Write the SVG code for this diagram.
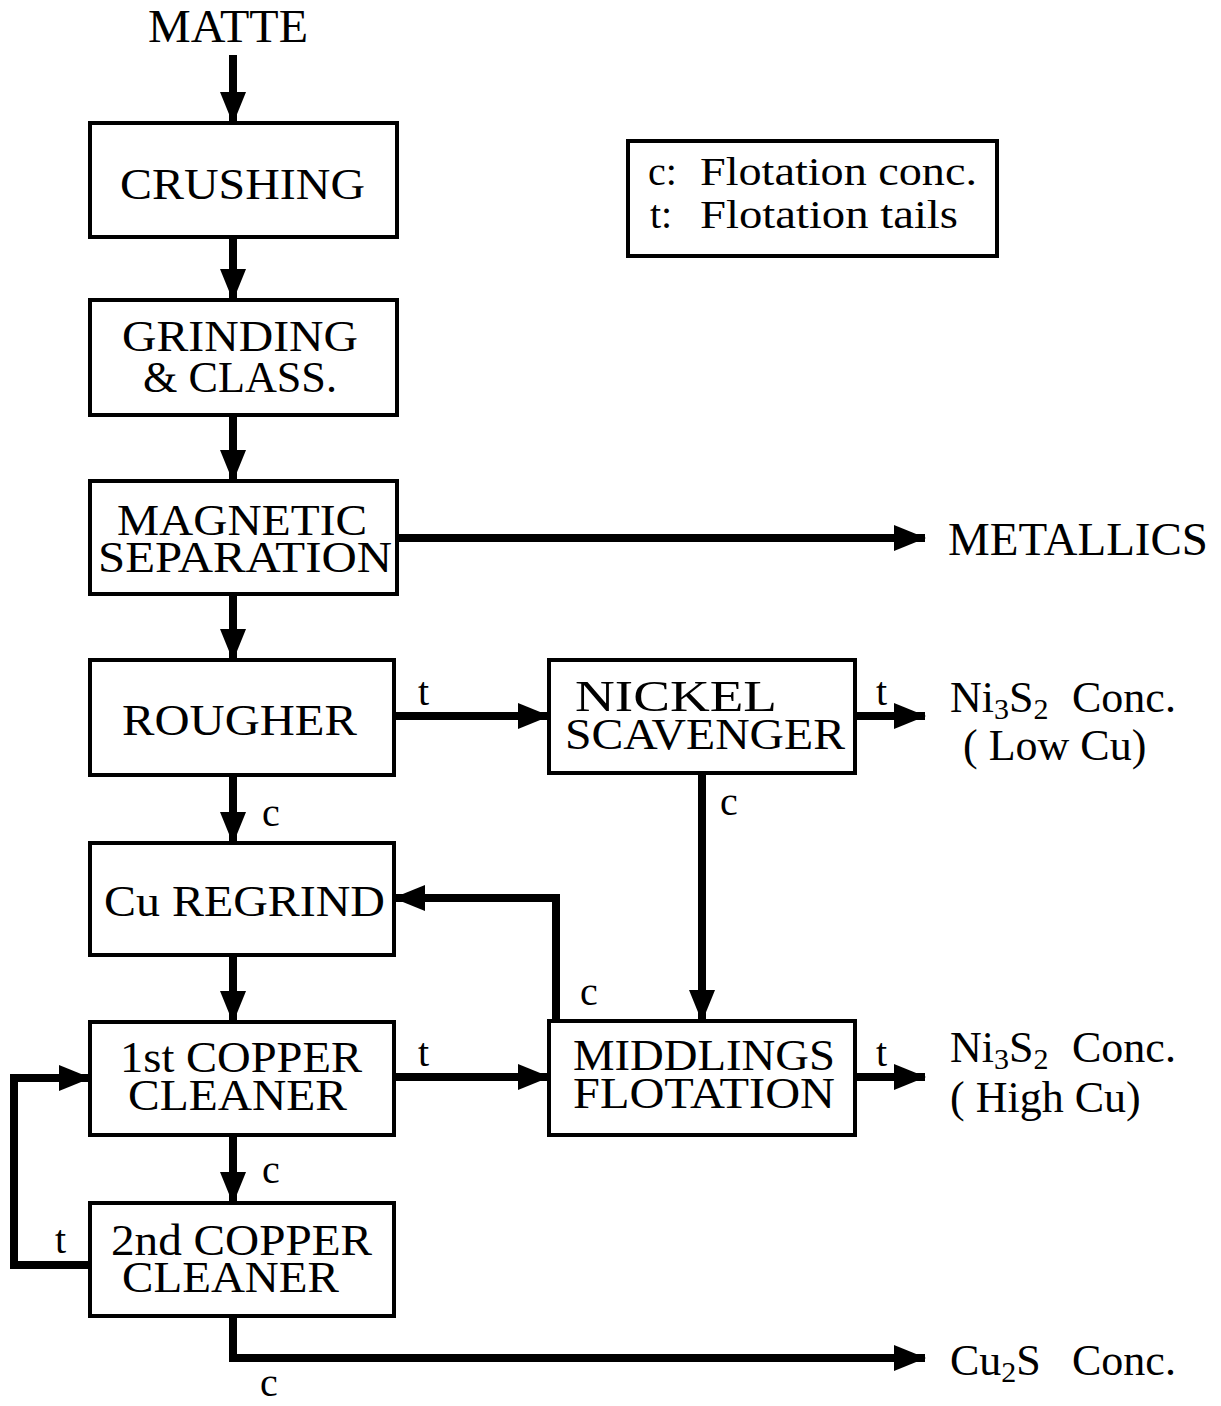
<svg xmlns="http://www.w3.org/2000/svg" width="1221" height="1406" viewBox="0 0 1221 1406">
<style>
.box{fill:#fff;stroke:#000;stroke-width:4}
.t{font-family:"Liberation Serif","Times New Roman",serif;font-size:44px;fill:#000}
.s{font-family:"Liberation Serif","Times New Roman",serif;font-size:40px;fill:#000}
.line{fill:none;stroke:#000;stroke-width:8}
</style>
<defs>
<marker id="ah" viewBox="0 0 32 26" refX="31" refY="13" markerWidth="32" markerHeight="26" markerUnits="userSpaceOnUse" orient="auto">
<path d="M0,0 L32,13 L0,26 Z" fill="#000"/>
</marker>
</defs>
<rect width="1221" height="1406" fill="#fff"/>
<text class="t" x="148" y="42" style="font-size:46px" textLength="160" lengthAdjust="spacingAndGlyphs">MATTE</text>
<g id="connectors">
<path class="line" d="M233,55 V123" marker-end="url(#ah)"/>
<path class="line" d="M233,237 V300" marker-end="url(#ah)"/>
<path class="line" d="M233,415 V481" marker-end="url(#ah)"/>
<path class="line" d="M233,594 V660" marker-end="url(#ah)"/>
<path class="line" d="M397,538 H925" marker-end="url(#ah)"/>
<path class="line" d="M394,716 H549" marker-end="url(#ah)"/>
<path class="line" d="M855,716 H925" marker-end="url(#ah)"/>
<path class="line" d="M233,775 V843" marker-end="url(#ah)"/>
<path class="line" d="M702,773 V1021" marker-end="url(#ah)"/>
<path class="line" d="M556,1021 V898 H394" marker-end="url(#ah)"/>
<path class="line" d="M233,955 V1022" marker-end="url(#ah)"/>
<path class="line" d="M394,1077 H549" marker-end="url(#ah)"/>
<path class="line" d="M855,1077 H925" marker-end="url(#ah)"/>
<path class="line" d="M233,1135 V1203" marker-end="url(#ah)"/>
<path class="line" d="M90,1265 H14 V1078 H90" marker-end="url(#ah)"/>
<path class="line" d="M233,1316 V1358 H925" marker-end="url(#ah)"/>
</g>
<g id="labels">
<text class="s" x="418" y="705">t</text>
<text class="s" x="876" y="705">t</text>
<text class="s" x="262" y="826">c</text>
<text class="s" x="720" y="815">c</text>
<text class="s" x="580" y="1005">c</text>
<text class="s" x="418" y="1066">t</text>
<text class="s" x="876" y="1066">t</text>
<text class="s" x="262" y="1183">c</text>
<text class="s" x="55" y="1253">t</text>
<text class="s" x="260" y="1396">c</text>
</g>
<g id="crushing"><rect class="box" x="90" y="123" width="307" height="114"/><text class="t" x="120" y="199" textLength="245" lengthAdjust="spacingAndGlyphs">CRUSHING</text></g>
<g id="grinding"><rect class="box" x="90" y="300" width="307" height="115"/><text class="t" x="122" y="351" textLength="236" lengthAdjust="spacingAndGlyphs">GRINDING</text><text class="t" x="143" y="392" textLength="194" lengthAdjust="spacingAndGlyphs">&amp; CLASS.</text></g>
<g id="magnetic"><rect class="box" x="90" y="481" width="307" height="113"/><text class="t" x="117" y="535" textLength="250" lengthAdjust="spacingAndGlyphs">MAGNETIC</text><text class="t" x="98" y="572" textLength="294" lengthAdjust="spacingAndGlyphs">SEPARATION</text></g>
<g id="rougher"><rect class="box" x="90" y="660" width="304" height="115"/><text class="t" x="122" y="735" textLength="235" lengthAdjust="spacingAndGlyphs">ROUGHER</text></g>
<g id="regrind"><rect class="box" x="90" y="843" width="304" height="112"/><text class="t" x="104" y="916" textLength="281" lengthAdjust="spacingAndGlyphs">Cu REGRIND</text></g>
<g id="cleaner1"><rect class="box" x="90" y="1022" width="304" height="113"/><text class="t" x="120" y="1072" textLength="242" lengthAdjust="spacingAndGlyphs">1st COPPER</text><text class="t" x="128" y="1110" textLength="219" lengthAdjust="spacingAndGlyphs">CLEANER</text></g>
<g id="cleaner2"><rect class="box" x="90" y="1203" width="304" height="113"/><text class="t" x="111" y="1255" textLength="261" lengthAdjust="spacingAndGlyphs">2nd COPPER</text><text class="t" x="122" y="1292" textLength="217" lengthAdjust="spacingAndGlyphs">CLEANER</text></g>
<g id="scavenger"><rect class="box" x="549" y="660" width="306" height="113"/><text class="t" x="575" y="711" textLength="202" lengthAdjust="spacingAndGlyphs">NICKEL</text><text class="t" x="565" y="749" textLength="280" lengthAdjust="spacingAndGlyphs">SCAVENGER</text></g>
<g id="middlings"><rect class="box" x="549" y="1021" width="306" height="114"/><text class="t" x="573" y="1070" textLength="262" lengthAdjust="spacingAndGlyphs">MIDDLINGS</text><text class="t" x="573" y="1108" textLength="262" lengthAdjust="spacingAndGlyphs">FLOTATION</text></g>
<g id="legend"><rect class="box" x="628" y="141" width="369" height="115"/>
<text class="t" x="648" y="185" style="font-size:40px">c:</text><text class="t" x="700" y="185" style="font-size:40px" textLength="277" lengthAdjust="spacingAndGlyphs">Flotation conc.</text>
<text class="t" x="650" y="228" style="font-size:40px">t:</text><text class="t" x="700" y="228" style="font-size:40px" textLength="258" lengthAdjust="spacingAndGlyphs">Flotation tails</text></g>
<g id="outputs">
<text class="t" x="948" y="555" style="font-size:46px" textLength="260" lengthAdjust="spacingAndGlyphs">METALLICS</text>
<text class="t" x="950" y="712">Ni<tspan font-size="30" dy="7">3</tspan><tspan dy="-7">S</tspan><tspan font-size="30" dy="7">2</tspan><tspan dy="-7" x="1072">Conc.</tspan></text>
<text class="t" x="963" y="760">( Low Cu)</text>
<text class="t" x="950" y="1062">Ni<tspan font-size="30" dy="7">3</tspan><tspan dy="-7">S</tspan><tspan font-size="30" dy="7">2</tspan><tspan dy="-7" x="1072">Conc.</tspan></text>
<text class="t" x="950" y="1112">( High Cu)</text>
<text class="t" x="950" y="1375">Cu<tspan font-size="30" dy="7">2</tspan><tspan dy="-7">S</tspan><tspan x="1072">Conc.</tspan></text>
</g>
</svg>
